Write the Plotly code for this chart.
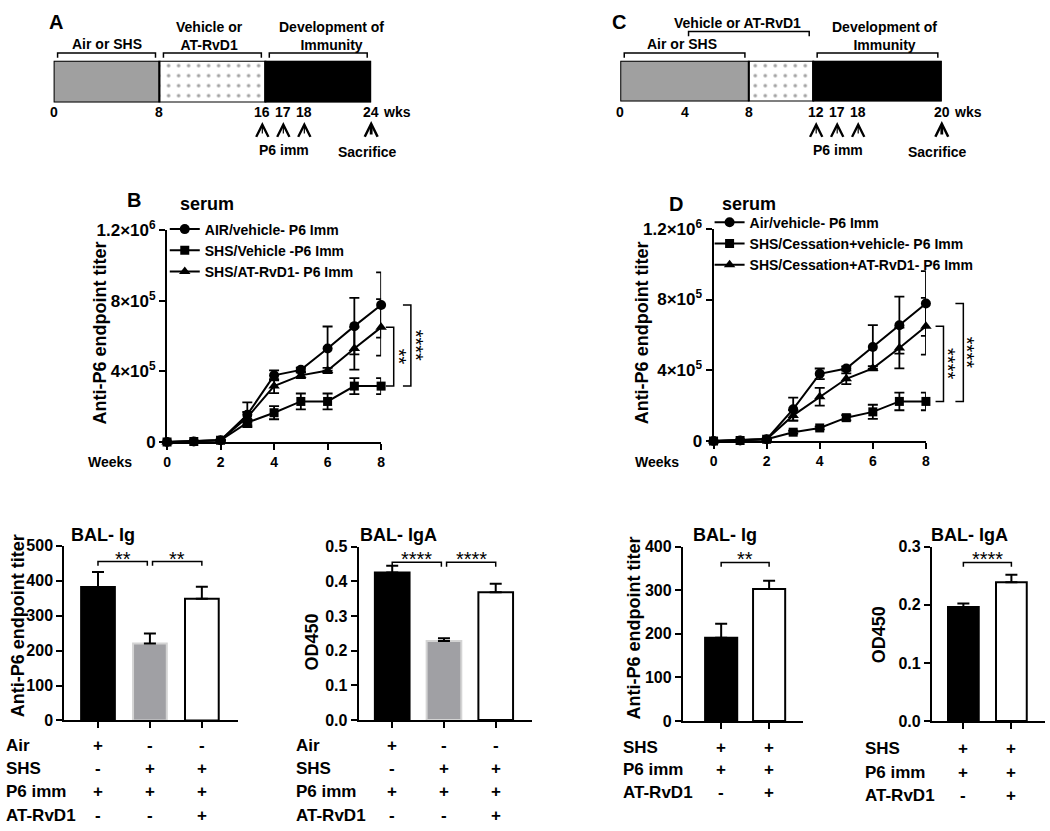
import plotly.graph_objects as go

W, H = 1050, 831
FONT = "Liberation Sans, Arial, sans-serif"


def px_x(p):
    return p / W


def px_y(p):
    return 1 - p / H


# ---- timelines (weeks) ----
phase_colors = ["#a0a0a0", "white", "black"]
phase_patterns = ["", ".", ""]

a_phase_start = [0, 8, 16]
a_phase_end = [8, 16, 24]
a_labels = ["Air or SHS", "Vehicle or<br>AT-RvD1", "Development of<br>Immunity"]
a_span_start = [0, 8, 16]
a_span_end = [8, 16, 24]
a_span_row = [0, 0, 0]
a_label_shift = [0, -3, 13]
a_ticks = [0, 8]
a_imm = [16, 17, 18]
a_end = 24

c_phase_start = [0, 8, 12]
c_phase_end = [8, 12, 20]
c_labels = ["Air or SHS", "Vehicle or AT-RvD1", "Development of<br>Immunity"]
c_span_start = [0, 4, 12]
c_span_end = [8, 12, 20]
c_span_row = [0, 1, 0]
c_label_shift = [-3, -11, 7]
c_ticks = [0, 4, 8]
c_imm = [12, 17, 18]
c_end = 20

# ---- serum titers ----
weeks = [0, 1, 2, 3, 4, 5, 6, 7, 8]

b_names = ["AIR/vehicle- P6 Imm", "SHS/Vehicle -P6 Imm", "SHS/AT-RvD1- P6 Imm"]
b_air = [0, 3e3, 1e4, 1.55e5, 3.78e5, 4.09e5, 5.30e5, 6.57e5, 7.77e5]
b_air_err = [0, 1e3, 3e3, 7e4, 2.8e4, 1.2e4, 1.25e5, 1.6e5, 1.85e5]
b_shs = [0, 3e3, 1e4, 1.1e5, 1.66e5, 2.3e5, 2.3e5, 3.17e5, 3.17e5]
b_shs_err = [0, 1e3, 2e3, 1.5e4, 3.7e4, 4.5e4, 4.5e4, 4.5e4, 4.5e4]
b_rvd = [0, 3e3, 1e4, 1.4e5, 3.17e5, 3.78e5, 4.05e5, 5.30e5, 6.50e5]
b_rvd_err = [0, 1e3, 2e3, 3e4, 4e4, 1.5e4, 1.5e4, 1.2e5, 1.6e5]

d_names = ["Air/vehicle- P6 Imm", "SHS/Cessation+vehicle- P6 Imm", "SHS/Cessation+AT-RvD1- P6 Imm"]
d_air = [0, 3e3, 1e4, 1.8e5, 3.8e5, 4.1e5, 5.32e5, 6.55e5, 7.78e5]
d_air_err = [0, 1e3, 3e3, 6.5e4, 3e4, 1.2e4, 1.23e5, 1.61e5, 1.83e5]
d_shs = [0, 3e3, 1e4, 5e4, 7.4e4, 1.32e5, 1.65e5, 2.24e5, 2.24e5]
d_shs_err = [0, 1e3, 2e3, 8e3, 8e3, 1.5e4, 4e4, 5e4, 5e4]
d_rvd = [0, 3e3, 1e4, 1.45e5, 2.5e5, 3.52e5, 4.11e5, 5.26e5, 6.49e5]
d_rvd_err = [0, 1e3, 2e3, 3e4, 5e4, 3e4, 1.2e4, 1.15e5, 1.6e5]

serum_ticks = [0, 4e5, 8e5, 1.2e6]
serum_ticktext = ["0", "4×10<sup>5</sup>", "8×10<sup>5</sup>", "1.2×10<sup>6</sup>"]

# ---- BAL bars ----
e_groups = [0, 1, 2]
e_ig = [382, 220, 348]
e_ig_err = [43, 29, 35]
e_iga = [0.426, 0.228, 0.369]
e_iga_err = [0.019, 0.008, 0.024]
e_colors = ["black", "#a0a0a4", "white"]
e_edges = ["black", "#d4d4d4", "black"]
e_rows = ["Air", "SHS", "P6 imm", "AT-RvD1"]
e_signs = [["+", "-", "-"], ["-", "+", "+"], ["+", "+", "+"], ["-", "-", "+"]]
e_ig_sig = [(0, 1, "**"), (1, 2, "**")]
e_iga_sig = [(0, 1, "****"), (1, 2, "****")]

f_groups = [0, 1]
f_ig = [191, 303]
f_ig_err = [32, 19]
f_iga = [0.1965, 0.239]
f_iga_err = [0.006, 0.013]
f_colors = ["black", "white"]
f_edges = ["black", "black"]
f_rows = ["SHS", "P6 imm", "AT-RvD1"]
f_signs = [["+", "+"], ["+", "+"], ["-", "+"]]
f_ig_sig = [(0, 1, "**")]
f_iga_sig = [(0, 1, "****")]


def font(size, bold=True):
    return dict(family=FONT, size=size, color="black", weight="bold" if bold else "normal")


def note(text, x, y, xref="paper", yref="paper", size=14, bold=True, **kw):
    d = dict(text=text, x=x, y=y, xref=xref, yref=yref, showarrow=False,
             font=font(size, bold), xanchor="center", yanchor="middle")
    d.update(kw)
    return d


fig = go.Figure()
annotations = []
shapes = []


# ---------------- timelines ----------------
def timeline(xa, ya, x0px, x1px, starts, ends, labels, sp0, sp1, rows, lshift, ticks, imm,
             end_wk, base_shift):
    span = ends[-1]
    fig.add_trace(go.Bar(
        x=[e - s for s, e in zip(starts, ends)], base=starts, y=[0] * len(starts),
        orientation="h", width=[1] * len(starts), xaxis=xa, yaxis=ya, showlegend=False,
        marker=dict(color=phase_colors, line=dict(color="black", width=2),
                    pattern=dict(shape=phase_patterns, fgcolor="black", size=10, solidity=0.1)),
        cliponaxis=False, hoverinfo="skip"))
    wk_px = (x1px - x0px) / span
    inset = 4 / wk_px
    for lab, s, e, r, sh in zip(labels, sp0, sp1, rows, lshift):
        by = 42 - 22 * r
        shapes.append(dict(type="path", xref=xa, yref="paper",
                           path=f"M{s + inset},{px_y(by + 5)} L{s + inset},{px_y(by)} "
                                f"L{e - inset},{px_y(by)} L{e - inset},{px_y(by + 5)}",
                           line=dict(color="black", width=1.5)))
        nl = lab.count("<br>")
        annotations.append(note(lab, (s + e) / 2, px_y(by - 9 - 8 * nl), xref=xa, size=14,
                                xshift=sh))
    for t in ticks:
        annotations.append(note(str(t), t, px_y(103), xref=xa, size=14))
    annotations.append(note(str(end_wk), end_wk, px_y(103), xref=xa, size=14))
    annotations.append(note("wks", end_wk, px_y(103), xref=xa, size=14, xanchor="left", xshift=10))
    for k, w in enumerate(imm):
        sh = base_shift + 21 * k
        annotations.append(note(str(w), imm[0], px_y(103), xref=xa, size=14, xshift=sh))
        annotations.append(dict(text="", x=imm[0], y=px_y(113), xref=xa, yref="paper", xshift=sh,
                                showarrow=True, ax=0, ay=13, arrowhead=5, arrowsize=2,
                                arrowwidth=1.2, arrowcolor="black", standoff=0))
    annotations.append(note("P6 imm", imm[0], px_y(142), xref=xa, size=14, xshift=base_shift + 22))
    annotations.append(dict(text="", x=end_wk, y=px_y(112), xref=xa, yref="paper",
                            showarrow=True, ax=0, ay=15, arrowhead=5, arrowsize=0.9,
                            arrowwidth=2.8, arrowcolor="black", standoff=0))
    annotations.append(note("Sacrifice", end_wk, px_y(144), xref=xa, size=14, xshift=-4))


timeline("x", "y", 50, 370, a_phase_start, a_phase_end, a_labels, a_span_start, a_span_end,
         a_span_row, a_label_shift, a_ticks, a_imm, a_end, -3)
timeline("x2", "y2", 621, 945, c_phase_start, c_phase_end, c_labels, c_span_start, c_span_end,
         c_span_row, c_label_shift, c_ticks, c_imm, c_end, 3)

# ---------------- serum line charts ----------------
symbols = ["circle", "square", "triangle-up"]
sizes = [10, 9, 10]


def serum(xa, ya, legend, names, series, errs):
    for nm, ys, er, sym, sz in zip(names, series, errs, symbols, sizes):
        fig.add_trace(go.Scatter(
            x=weeks, y=ys, name=nm, mode="lines+markers", xaxis=xa, yaxis=ya, legend=legend,
            line=dict(color="black", width=2),
            marker=dict(symbol=sym, size=sz, color="black"),
            error_y=dict(type="data", array=er, color="black", thickness=1.8, width=5),
            cliponaxis=False, hoverinfo="skip"))


serum("x3", "y3", "legend", b_names, [b_air, b_shs, b_rvd], [b_air_err, b_shs_err, b_rvd_err])
serum("x4", "y4", "legend2", d_names, [d_air, d_shs, d_rvd], [d_air_err, d_shs_err, d_rvd_err])


def vbracket(yref, xpx, ya, yb, stars, star_px):
    x = px_x(xpx)
    dx = 8 / W
    shapes.append(dict(type="path", xref="paper", yref=yref,
                       path=f"M{x - dx},{ya} L{x},{ya} L{x},{yb} L{x - dx},{yb}",
                       line=dict(color="black", width=1.5)))
    annotations.append(note(stars, px_x(star_px), (ya + yb) / 2, yref=yref, size=20, bold=False,
                            textangle=90))


vbracket("y3", 410, b_air[-1], b_shs[-1], "****", 416)
vbracket("y3", 392.7, b_rvd[-1], b_shs[-1], "**", 398)
vbracket("y4", 966.7, d_air[-1], d_shs[-1], "****", 970)
vbracket("y4", 946.7, d_rvd[-1], d_shs[-1], "****", 951)


# ---------------- BAL bar charts ----------------
def bal(xa, ya, groups, vals, errs, colors, edges, width, sig, ymax, rows, signs,
        label_px, row_y0, row_step):
    fig.add_trace(go.Bar(
        x=groups, y=vals, width=width, xaxis=xa, yaxis=ya, showlegend=False,
        marker=dict(color=colors, line=dict(color=edges, width=2)),
        error_y=dict(type="data", array=errs, arrayminus=[0] * len(errs), color="black",
                     thickness=2, width=6),
        cliponaxis=False, hoverinfo="skip"))
    lvl = 0.91 * ymax
    drop = 0.025 * ymax
    for i, j, stars in sig:
        a = i + (0.05 if i > 0 else 0)
        b = j - (0.05 if j < len(groups) - 1 else 0)
        shapes.append(dict(type="path", xref=xa, yref=ya,
                           path=f"M{a},{lvl - drop} L{a},{lvl} L{b},{lvl} L{b},{lvl - drop}",
                           line=dict(color="black", width=1.5)))
        annotations.append(note(stars, (a + b) / 2, lvl, xref=xa, yref=ya, size=20, bold=False,
                                yanchor="bottom", yshift=-10))
    for r, (lab, row) in enumerate(zip(rows, signs)):
        yy = px_y(row_y0 + row_step * r)
        annotations.append(note(lab, px_x(label_px), yy, size=17, xanchor="left"))
        for g, s in zip(groups, row):
            annotations.append(note(s, g, yy, xref=xa, size=17))


bal("x5", "y5", e_groups, e_ig, e_ig_err, e_colors, e_edges, 0.65, e_ig_sig, 500,
    e_rows, e_signs, 0, 753, 24)
bal("x6", "y6", e_groups, e_iga, e_iga_err, e_colors, e_edges, 0.67, e_iga_sig, 0.5,
    e_rows, e_signs, 292, 753, 24)
bal("x7", "y7", f_groups, f_ig, f_ig_err, f_colors, f_edges, 0.67, f_ig_sig, 400,
    f_rows, f_signs, 622, 755, 23.5)
bal("x8", "y8", f_groups, f_iga, f_iga_err, f_colors, f_edges, 0.64, f_iga_sig, 0.3,
    f_rows, f_signs, 866, 757, 24)

# ---------------- titles / labels ----------------
annotations += [
    note("A", px_x(52), px_y(10), size=20),
    note("C", px_x(620), px_y(10), size=20),
    note("B", px_x(131), px_y(193), size=20),
    note("D", px_x(677), px_y(197), size=20),
    note("serum", px_x(175), px_y(197), size=18, xanchor="left"),
    note("serum", px_x(722), px_y(197), size=18, xanchor="left"),
    note("Anti-P6 endpoint titer", px_x(97), px_y(330), size=18, textangle=-90),
    note("Anti-P6 endpoint titer", px_x(643), px_y(330), size=18, textangle=-90),
    note("Weeks", px_x(107), px_y(462), size=14),
    note("Weeks", px_x(658), px_y(462), size=14),
    note("BAL- Ig", px_x(100), px_y(537), size=18),
    note("BAL- IgA", px_x(398), px_y(537), size=18),
    note("BAL- Ig", px_x(727), px_y(537), size=18),
    note("BAL- IgA", px_x(973), px_y(537), size=18),
    note("Anti-P6 endpoint titer", px_x(14), px_y(630), size=18, textangle=-90),
    note("OD450", px_x(310), px_y(647), size=18, textangle=-90),
    note("Anti-P6 endpoint titer", px_x(635), px_y(633), size=18, textangle=-90),
    note("OD450", px_x(882), px_y(640), size=18, textangle=-90),
]


def ax(domain, **kw):
    base = dict(domain=domain, showline=True, linewidth=2, linecolor="black", ticks="outside",
                ticklen=6, tickwidth=2, tickcolor="black", showgrid=False, zeroline=False,
                tickfont=font(16), fixedrange=True)
    base.update(kw)
    return base


hidden = dict(visible=False, fixedrange=True)

fig.update_layout(
    width=W, height=H, margin=dict(l=0, r=0, t=0, b=0),
    paper_bgcolor="white", plot_bgcolor="rgba(0,0,0,0)", barmode="overlay",
    font=dict(family=FONT, color="black"),
    xaxis=dict(domain=[px_x(50), px_x(370)], range=[0, a_end], anchor="y", **hidden),
    yaxis=dict(domain=[px_y(93), px_y(50)], range=[-0.5, 0.5], anchor="x", **hidden),
    xaxis2=dict(domain=[px_x(621), px_x(945)], range=[0, c_end], anchor="y2", **hidden),
    yaxis2=dict(domain=[px_y(92), px_y(50)], range=[-0.5, 0.5], anchor="x2", **hidden),
    xaxis3=ax([px_x(164.3), px_x(380)], range=[0, 8], tickvals=[0, 2, 4, 6, 8], anchor="y3",
              tickfont=font(14)),
    yaxis3=ax([px_y(441.7), px_y(224.3)], range=[0, 1.2e6], tickvals=serum_ticks,
              ticktext=serum_ticktext, anchor="x3", tickfont=font(17)),
    xaxis4=ax([px_x(715), px_x(929)], range=[0, 8], tickvals=[0, 2, 4, 6, 8], anchor="y4",
              tickfont=font(14)),
    yaxis4=ax([px_y(440.7), px_y(222.7)], range=[0, 1.2e6], tickvals=serum_ticks,
              ticktext=serum_ticktext, anchor="x4", tickfont=font(17)),
    xaxis5=ax([px_x(60.7), px_x(236)], range=[-0.65, 2.7], tickvals=e_groups,
              showticklabels=False, anchor="y5"),
    yaxis5=ax([px_y(727.7), px_y(548.3)], range=[0, 500], dtick=100, anchor="x5"),
    xaxis6=ax([px_x(357.3), px_x(532)], range=[-0.65, 2.7], tickvals=e_groups,
              showticklabels=False, anchor="y6"),
    yaxis6=ax([px_y(727.3), px_y(549.3)], range=[0, 0.5], dtick=0.1, tickformat=".1f",
              anchor="x6"),
    xaxis7=ax([px_x(684), px_x(805.3)], range=[-0.8, 1.71], tickvals=f_groups,
              showticklabels=False, anchor="y7"),
    yaxis7=ax([px_y(728.3), px_y(549.3)], range=[0, 400], dtick=100, anchor="x7"),
    xaxis8=ax([px_x(935), px_x(1049)], range=[-0.656, 1.7], tickvals=f_groups,
              showticklabels=False, anchor="y8"),
    yaxis8=ax([px_y(728.3), px_y(549.3)], range=[0, 0.3], dtick=0.1, tickformat=".1f",
              anchor="x8"),
    legend=dict(x=px_x(162), y=px_y(207), xanchor="left", yanchor="top", bgcolor="rgba(0,0,0,0)",
                font=font(14), tracegroupgap=0, itemclick=False),
    legend2=dict(x=px_x(711), y=px_y(200), xanchor="left", yanchor="top",
                 bgcolor="rgba(0,0,0,0)", font=font(14), tracegroupgap=0, itemclick=False),
    annotations=annotations,
    shapes=shapes,
)

fig.write_html("out.html", config={"displayModeBar": False},
               post_script="document.body.style.margin='0';document.body.style.overflow='hidden';")
